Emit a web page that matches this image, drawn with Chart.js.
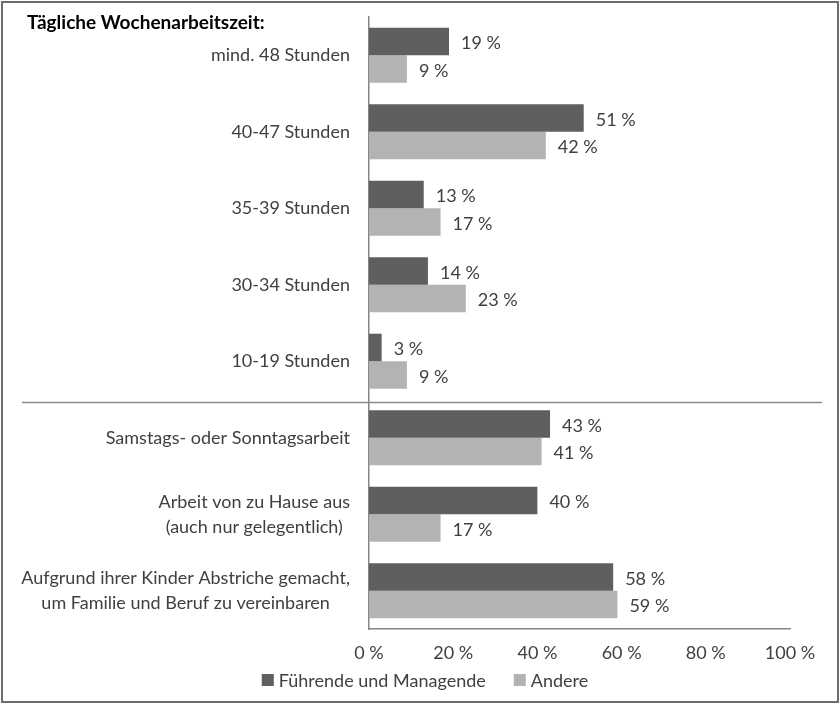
<!DOCTYPE html>
<html>
<head>
<meta charset="utf-8">
<script src="https://cdn.jsdelivr.net/npm/chart.js@4/dist/chart.umd.min.js"></script>
<style>
  html, body { margin: 0; padding: 0; background: #ffffff; }
  #wrap { width: 840px; height: 704px; }
</style>
</head>
<body>
<div id="wrap"><canvas id="c" width="840" height="704"></canvas></div>
<script>
const chartTitle = 'Tägliche Wochenarbeitszeit:';
const categories = [
  ['mind. 48 Stunden'],
  ['40-47 Stunden'],
  ['35-39 Stunden'],
  ['30-34 Stunden'],
  ['10-19 Stunden'],
  ['Samstags- oder Sonntagsarbeit'],
  ['Arbeit von zu Hause aus', '(auch nur gelegentlich)'],
  ['Aufgrund ihrer Kinder Abstriche gemacht,', 'um Familie und Beruf zu vereinbaren']
];
const seriesNames = ['Führende und Managende', 'Andere'];
const fuehrende = [19, 51, 13, 14, 3, 43, 40, 58];
const andere = [9, 42, 17, 23, 9, 41, 17, 59];
const xTicks = [0, 20, 40, 60, 80, 100];

const FONT = 'Lato';
const TEXT = '#404040';
const FS = 18;
const COLORS = ['#5f5f5f', '#b3b3b3'];

const framePlugin = {
  id: 'frame',
  beforeDraw(chart) {
    const ctx = chart.ctx;
    ctx.save();
    ctx.fillStyle = '#ffffff';
    ctx.fillRect(0, 0, chart.width, chart.height);
    ctx.restore();
  },
  afterDraw(chart) {
    const ctx = chart.ctx;
    const ys = chart.scales.y;
    ctx.save();
    // outer border
    ctx.strokeStyle = '#6b6b6b';
    ctx.lineWidth = 2;
    ctx.strokeRect(2, 2, chart.width - 4, chart.height - 4);
    // title
    ctx.fillStyle = '#000000';
    ctx.font = 'bold 19px ' + FONT;
    ctx.textAlign = 'left';
    ctx.textBaseline = 'alphabetic';
    ctx.fillText(chartTitle, 27, 29);
    // separator
    const sepY = (ys.getPixelForValue(4) + ys.getPixelForValue(5)) / 2 + 3;
    ctx.strokeStyle = '#8c8c8c';
    ctx.lineWidth = 1.5;
    ctx.beginPath();
    ctx.moveTo(22, sepY);
    ctx.lineTo(822, sepY);
    ctx.stroke();
    // category labels
    ctx.font = FS + 'px ' + FONT;
    ctx.fillStyle = TEXT;
    ctx.textAlign = 'center';
    ctx.textBaseline = 'middle';
    const right = chart.chartArea.left - 19;
    const lh = 25;
    categories.forEach((lines, i) => {
      const cy = ys.getPixelForValue(i);
      const w = Math.max(...lines.map(l => ctx.measureText(l).width));
      const cx = right - w / 2;
      const y0 = cy - (lines.length - 1) * lh / 2;
      lines.forEach((l, k) => ctx.fillText(l, cx, y0 + k * lh));
    });
    // legend
    const box = 12, gapText = 5, gapItem = 28, ly = 680;
    const widths = seriesNames.map(n => ctx.measureText(n).width);
    let total = 0;
    widths.forEach((w, i) => { total += box + gapText + w + (i ? gapItem : 0); });
    let x = 425 - total / 2;
    ctx.textAlign = 'left';
    seriesNames.forEach((n, i) => {
      ctx.fillStyle = COLORS[i];
      ctx.fillRect(x, ly - box / 2, box, box);
      x += box + gapText;
      ctx.fillStyle = TEXT;
      ctx.fillText(n, x, ly + 1);
      x += widths[i] + gapItem;
    });
    ctx.restore();
  },
  afterDatasetsDraw(chart) {
    const ctx = chart.ctx;
    ctx.save();
    ctx.font = FS + 'px ' + FONT;
    ctx.fillStyle = TEXT;
    ctx.textAlign = 'left';
    ctx.textBaseline = 'middle';
    chart.data.datasets.forEach((ds, di) => {
      const meta = chart.getDatasetMeta(di);
      meta.data.forEach((bar, i) => {
        ctx.fillText(ds.data[i] + ' %', bar.x + 12, bar.y + 2);
      });
    });
    ctx.restore();
  }
};

new Chart(document.getElementById('c'), {
  type: 'bar',
  data: {
    labels: categories.map(c => c.join(' ')),
    datasets: [
      { label: seriesNames[0], data: fuehrende, backgroundColor: COLORS[0], borderWidth: 0 },
      { label: seriesNames[1], data: andere, backgroundColor: COLORS[1], borderWidth: 0 }
    ]
  },
  options: {
    indexAxis: 'y',
    responsive: false,
    animation: false,
    events: [],
    categoryPercentage: 0.72,
    barPercentage: 1.0,
    layout: { padding: { top: 17, right: 50, left: 0, bottom: 0 } },
    scales: {
      y: {
        type: 'category',
        ticks: { display: false },
        grid: { display: false, drawTicks: false },
        border: { display: true, color: '#868686', width: 1.5 },
        afterFit(s) { s.width = 369; }
      },
      x: {
        type: 'linear',
        min: 0,
        max: 100,
        afterBuildTicks(s) { s.ticks = xTicks.map(v => ({ value: v })); },
        ticks: {
          callback: v => v + ' %',
          font: { family: FONT, size: FS },
          color: TEXT,
          padding: 13,
          maxRotation: 0,
          autoSkip: false
        },
        grid: { display: false, drawTicks: false },
        border: { display: true, color: '#868686', width: 1.5 },
        afterFit(s) { s.height = 75; }
      }
    },
    plugins: {
      legend: { display: false },
      tooltip: { enabled: false },
      title: { display: false }
    }
  },
  plugins: [framePlugin]
});
</script>
</body>
</html>
